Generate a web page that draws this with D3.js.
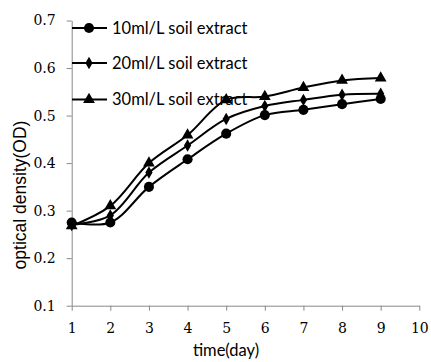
<!DOCTYPE html>
<meta charset="utf-8">
<style>
body { margin: 0; background: #fff; }
text { fill: #000; }
.axis path, .axis line { stroke: #888; }
</style>
<svg width="431" height="362"></svg>
<script src="https://d3js.org/d3.v7.min.js"></script>
<script>

var days = [1, 2, 3, 4, 5, 6, 7, 8, 9];
var names = ["10ml/L soil extract", "20ml/L soil extract", "30ml/L soil extract"];
var od10 = [0.275, 0.275, 0.350, 0.408, 0.462, 0.501, 0.512, 0.524, 0.535];
var od20 = [0.270, 0.290, 0.380, 0.437, 0.493, 0.520, 0.533, 0.544, 0.546];
var od30 = [0.268, 0.310, 0.400, 0.459, 0.533, 0.540, 0.559, 0.574, 0.579];
var xTicks = [1, 2, 3, 4, 5, 6, 7, 8, 9, 10];
var yTicks = [0.1, 0.2, 0.3, 0.4, 0.5, 0.6, 0.7];

var svg = d3.select("svg"),
    margin = {top: 20.5, left: 71.7};

var x = d3.scaleLinear().domain([1, 10]).range([0, 347.6]),
    y = d3.scaleLinear().domain([0.1, 0.7]).range([285.2, 0]);

var g = svg.append("g")
    .attr("transform", "translate(" + margin.left + "," + margin.top + ")");

g.append("g")
    .attr("class", "axis")
    .attr("transform", "translate(0," + y(0.1) + ")")
    .call(d3.axisBottom(x).tickValues(xTicks).tickSize(5).tickSizeOuter(0).tickPadding(12));

g.append("g")
    .attr("class", "axis")
    .call(d3.axisLeft(y).tickValues(yTicks).tickSize(5).tickSizeOuter(0).tickPadding(11).tickFormat(d3.format(".1f")));

g.selectAll(".axis text")
    .style("font-family", "'DejaVu Serif', serif")
    .style("font-size", "14px");

svg.append("text")
    .attr("x", 226)
    .attr("y", 356)
    .attr("text-anchor", "middle")
    .style("font-family", "Lato, sans-serif")
    .style("font-size", "16.5px")
    .text("time(day)");

svg.append("text")
    .attr("transform", "translate(26,195) rotate(-90)")
    .attr("text-anchor", "middle")
    .style("font-family", "'Liberation Sans', Arial, sans-serif")
    .style("font-size", "17.5px")
    .text("optical density(OD)");

var series = [od10, od20, od30];
var symbols = [d3.symbolCircle, d3.symbolDiamond, d3.symbolTriangle];
var sizes = [80, 45, 60];

var line = d3.line()
    .x(function(d) { return x(d.day); })
    .y(function(d) { return y(d.v); })
    .curve(d3.curveCatmullRom.alpha(0.5));

series.forEach(function(vals, i) {
  var pts = days.map(function(d, j) { return {day: d, v: vals[j]}; });
  g.append("path")
      .datum(pts)
      .attr("fill", "none")
      .attr("stroke", "#000")
      .attr("stroke-width", 2)
      .attr("d", line);
  g.selectAll(".m" + i)
    .data(pts)
    .enter().append("path")
      .attr("class", "m" + i)
      .attr("transform", function(d) { return "translate(" + x(d.day) + "," + y(d.v) + ")"; })
      .attr("d", d3.symbol().type(symbols[i]).size(sizes[i]));
});

// legend
var legendY = [28, 63, 99.5];
names.forEach(function(n, i) {
  var lg = svg.append("g").attr("transform", "translate(72," + legendY[i] + ")");
  lg.append("line")
      .attr("x1", 0).attr("x2", 35)
      .attr("stroke", "#000").attr("stroke-width", 2);
  lg.append("path")
      .attr("transform", "translate(17,0)")
      .attr("d", d3.symbol().type(symbols[i]).size(sizes[i]));
  lg.append("text")
      .attr("x", 40)
      .attr("dy", "0.35em")
      .style("font-family", "Lato, sans-serif")
      .style("font-size", "16.5px")
      .text(n);
});

</script>
